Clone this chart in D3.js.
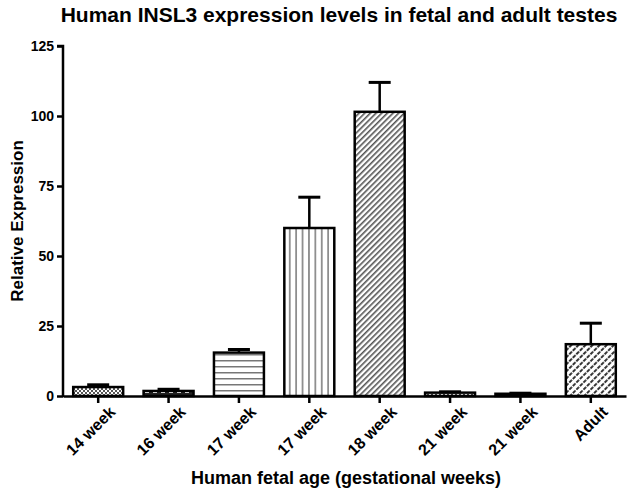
<!DOCTYPE html>
<html>
<head>
<meta charset="utf-8">
<script src="https://cdn.jsdelivr.net/npm/d3@7"></script>
<style>
  body { margin: 0; background: #fff; }
  text { font-family: "Liberation Sans", Arial, sans-serif; font-weight: bold; }
</style>
</head>
<body>
<svg width="630" height="493"></svg>
<script>
const categories = ["14 week", "16 week", "17 week", "17 week", "18 week", "21 week", "21 week", "Adult"];
const means = [3.2, 1.8, 15.5, 60, 101.5, 1.2, 0.8, 18.5];
const errUpper = [4.0, 2.4, 16.6, 71, 112, 1.5, 1.0, 26];
const yTicks = [0, 25, 50, 75, 100, 125];
const fills = ["checkFine", "checkBig", "hlines", "vlines", "diag", "dots", "solid", "brick"];

const margin = { top: 46, right: 4, bottom: 97, left: 63 };
const svg = d3.select("svg");
const width = +svg.attr("width") - margin.left - margin.right;
const height = +svg.attr("height") - margin.top - margin.bottom;

// fill patterns
const defs = svg.append("defs");
function pat(id, w, h) {
    return defs.append("pattern").attr("id", id).attr("patternUnits", "userSpaceOnUse")
        .attr("width", w).attr("height", h);
}
let p = pat("checkFine", 4, 4);
p.append("rect").attr("width", 4).attr("height", 4).attr("fill", "#fff");
p.append("rect").attr("width", 2).attr("height", 2).attr("fill", "#555");
p.append("rect").attr("x", 2).attr("y", 2).attr("width", 2).attr("height", 2).attr("fill", "#555");
p = pat("checkBig", 8, 6);
p.append("rect").attr("width", 8).attr("height", 6).attr("fill", "#222");
p.append("rect").attr("x", 2).attr("y", 1).attr("width", 4).attr("height", 4).attr("fill", "#fff");
p = pat("hlines", 6, 6);
p.append("rect").attr("width", 6).attr("height", 6).attr("fill", "#fff");
p.append("rect").attr("y", 2).attr("width", 6).attr("height", 1.5).attr("fill", "#777");
p = pat("vlines", 6.4, 6);
p.append("rect").attr("width", 6.4).attr("height", 6).attr("fill", "#fff");
p.append("rect").attr("x", 2).attr("width", 1.5).attr("height", 6).attr("fill", "#777");
p = pat("diag", 4, 4);
p.attr("patternTransform", "rotate(45)");
p.append("rect").attr("width", 4).attr("height", 4).attr("fill", "#fff");
p.append("rect").attr("width", 1.6).attr("height", 4).attr("fill", "#555");
p = pat("dots", 4, 4);
p.append("rect").attr("width", 4).attr("height", 4).attr("fill", "#fff");
p.append("rect").attr("width", 2).attr("height", 2).attr("fill", "#444");
p = pat("solid", 4, 4);
p.append("rect").attr("width", 4).attr("height", 4).attr("fill", "#111");
p = pat("brick", 5, 5);
p.attr("patternTransform", "rotate(45)");
p.append("rect").attr("width", 5).attr("height", 5).attr("fill", "#fff");
p.append("rect").attr("width", 2).attr("height", 5).attr("fill", "#333");
p.append("rect").attr("width", 5).attr("height", 1.2).attr("fill", "#fff");

const g = svg.append("g").attr("transform", `translate(${margin.left},${margin.top})`);

const x = d3.scaleBand()
    .domain(d3.range(categories.length))
    .range([0, width])
    .paddingInner(0.29)
    .paddingOuter(0.145);

const y = d3.scaleLinear().domain([0, 125]).range([height, 0]);

// bars
g.selectAll(".bar")
    .data(means)
    .enter().append("rect")
    .attr("class", "bar")
    .attr("x", (d, i) => x(i))
    .attr("y", d => y(d))
    .attr("width", x.bandwidth())
    .attr("height", d => height - y(d))
    .attr("fill", (d, i) => `url(#${fills[i]})`)
    .attr("stroke", "#000")
    .attr("stroke-width", 2.5);

// error bars (upper only)
const cap = 11;
g.selectAll(".err")
    .data(means)
    .enter().append("g")
    .attr("class", "err")
    .each(function(d, i) {
        const cx = x(i) + x.bandwidth() / 2;
        const e = d3.select(this);
        e.append("line").attr("x1", cx).attr("x2", cx)
            .attr("y1", y(d)).attr("y2", y(errUpper[i]))
            .attr("stroke", "#000").attr("stroke-width", 2.5);
        e.append("line").attr("x1", cx - cap).attr("x2", cx + cap)
            .attr("y1", y(errUpper[i])).attr("y2", y(errUpper[i]))
            .attr("stroke", "#000").attr("stroke-width", 3);
    });

// axes
const yAxis = g.append("g")
    .call(d3.axisLeft(y).tickValues(yTicks).tickSize(6).tickPadding(3));
yAxis.select(".domain").attr("stroke-width", 2.5).attr("d", `M0,${height + 1}V0H-6`);
yAxis.selectAll(".tick line").attr("stroke-width", 2.5);
yAxis.selectAll(".tick text").attr("font-size", 14).attr("fill", "#000");

const xAxis = g.append("g")
    .attr("transform", `translate(0,${height})`)
    .call(d3.axisBottom(x).tickFormat(i => categories[i]).tickSize(7).tickSizeOuter(0));
xAxis.select(".domain").attr("stroke-width", 2.5);
xAxis.selectAll(".tick line").attr("stroke-width", 2.5);
xAxis.selectAll(".tick text")
    .attr("font-size", 16)
    .attr("fill", "#000")
    .attr("text-anchor", "end")
    .attr("dy", "0.35em")
    .attr("transform", "translate(7,6) rotate(-45)");

// titles
svg.append("text")
    .attr("x", 339).attr("y", 22)
    .attr("text-anchor", "middle")
    .attr("font-size", 21)
    .text("Human INSL3 expression levels in fetal and adult testes");

svg.append("text")
    .attr("transform", `translate(23,${margin.top + height / 2}) rotate(-90)`)
    .attr("text-anchor", "middle")
    .attr("font-size", 17)
    .text("Relative Expression");

svg.append("text")
    .attr("x", 346).attr("y", 484)
    .attr("text-anchor", "middle")
    .attr("font-size", 18)
    .text("Human fetal age (gestational weeks)");
</script>
</body>
</html>
